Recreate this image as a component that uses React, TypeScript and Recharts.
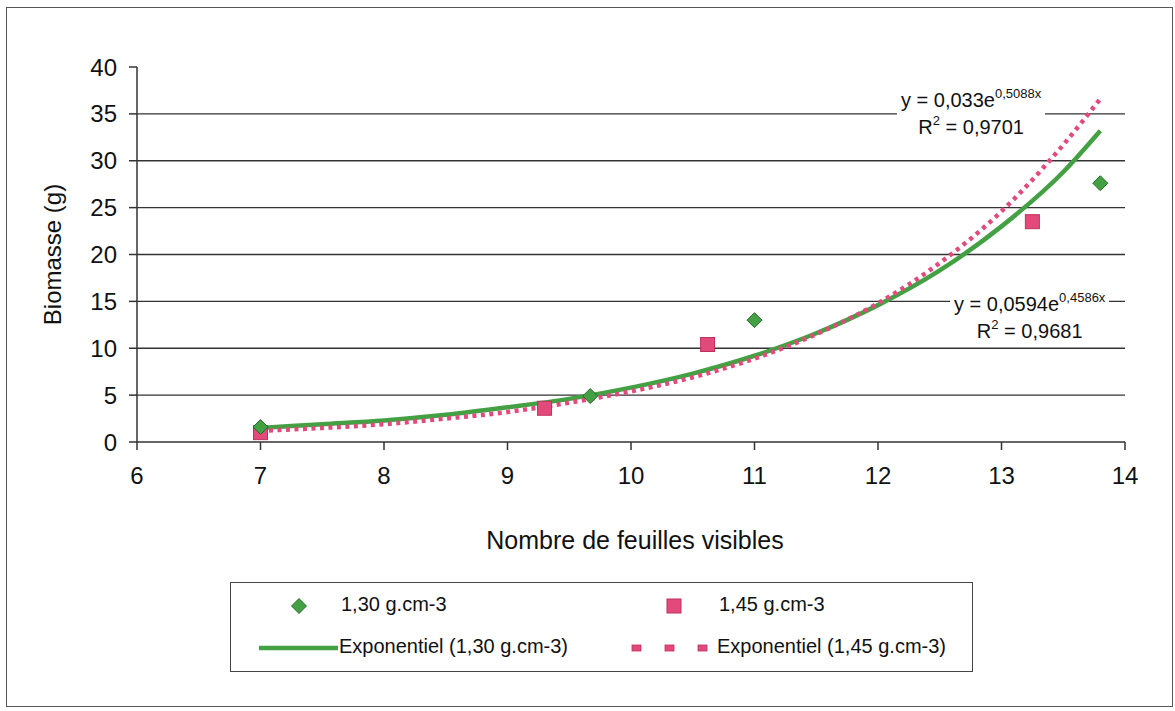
import { ComposedChart, Line, Scatter, XAxis, YAxis, ReferenceLine, Label } from 'recharts';

const FONT = '"Liberation Sans", Arial, sans-serif';

// measured points
const x130 = [7, 9.67, 11, 13.8];
const y130 = [1.6, 4.9, 13.0, 27.6];
const x145 = [7, 9.3, 10.62, 13.25];
const y145 = [1.0, 3.6, 10.4, 23.5];

// trend curves
const trendX = [7, 7.5, 8, 8.5, 9, 9.5, 10, 10.5, 11, 11.5, 12, 12.5, 13, 13.5, 13.8];
const trend130 = [1.5, 1.9, 2.3, 2.9, 3.7, 4.6, 5.8, 7.3, 9.2, 11.6, 14.6, 18.3, 23.0, 28.8, 33.2];
const trend145 = [1.2, 1.5, 1.9, 2.5, 3.2, 4.2, 5.4, 6.9, 8.9, 11.5, 14.8, 19.1, 24.6, 31.7, 36.6];

const xTicks = [6, 7, 8, 9, 10, 11, 12, 13, 14];
const yTicks = [0, 5, 10, 15, 20, 25, 30, 35, 40];
const gridValues = [5, 10, 15, 20, 25, 30, 35];

const GREEN = '#43a043';
const PINK = '#e24a7c';

const pts130 = x130.map((x, i) => ({ x, y: y130[i] }));
const pts145 = x145.map((x, i) => ({ x, y: y145[i] }));
const line130 = trendX.map((x, i) => ({ x, y: trend130[i] }));
const line145 = trendX.map((x, i) => ({ x, y: trend145[i] }));

function Diamond(props: any) {
  const { cx, cy } = props;
  const r = 7.5;
  return (
    <polygon
      points={`${cx},${cy - r} ${cx + r},${cy} ${cx},${cy + r} ${cx - r},${cy}`}
      fill={GREEN}
      stroke="#2a6a2a"
      strokeWidth={1}
    />
  );
}

function Square(props: any) {
  const { cx, cy } = props;
  const s = 14;
  return <rect x={cx - s / 2} y={cy - s / 2} width={s} height={s} fill={PINK} stroke="#c0305e" strokeWidth={1} />;
}

function YTitle(props: any) {
  const { viewBox } = props;
  const cx = viewBox.x - 25;
  const cy = viewBox.y + viewBox.height / 2;
  return (
    <text x={cx} y={cy} transform={`rotate(-90 ${cx} ${cy})`} textAnchor="middle" dominantBaseline="central"
      fontSize={24} fontFamily={FONT} fill="#111">
      Biomasse (g)
    </text>
  );
}

function XTitle(props: any) {
  const { viewBox } = props;
  const cx = viewBox.x + viewBox.width / 2 + 4;
  return (
    <text x={cx} y={viewBox.y + 98} textAnchor="middle" dominantBaseline="central"
      fontSize={25} fontFamily={FONT} fill="#111">
      Nombre de feuilles visibles
    </text>
  );
}

const supStyle = { fontSize: 13, verticalAlign: 'top', lineHeight: '13px' };

function Equation({ left, top, coef, exp, r2 }: { left: number; top: number; coef: string; exp: string; r2: string }) {
  return (
    <div style={{
      position: 'absolute', left, top, background: '#fff', textAlign: 'center',
      fontFamily: FONT, fontSize: 20, lineHeight: '27px', color: '#111', padding: '2px 4px',
    }}>
      <div>y = {coef}e<sup style={supStyle}>{exp}</sup></div>
      <div>R<sup style={supStyle}>2</sup> = {r2}</div>
    </div>
  );
}

const legendDots = [0, 1, 2];

function LegendBox() {
  const txt = { fontFamily: FONT, fontSize: 20, color: '#111', position: 'absolute' as const };
  return (
    <div style={{ position: 'absolute', left: 230, top: 582, width: 743, height: 90, border: '1.5px solid #444', boxSizing: 'border-box' }}>
      <svg width={743} height={90} style={{ position: 'absolute', left: 0, top: 0 }}>
        <Diamond cx={68} cy={23} />
        <Square cx={443} cy={23} />
        <line x1={28} x2={107} y1={65} y2={65} stroke={GREEN} strokeWidth={4.5} />
        {legendDots.map((i) => (
          <rect key={i} x={401 + i * 33} y={62} width={9} height={6} fill={PINK} stroke="#c0305e" strokeWidth={0.8} />
        ))}
      </svg>
      <span style={{ ...txt, left: 110, top: 10 }}>1,30 g.cm-3</span>
      <span style={{ ...txt, left: 488, top: 10 }}>1,45 g.cm-3</span>
      <span style={{ ...txt, left: 108, top: 52 }}>Exponentiel (1,30 g.cm-3)</span>
      <span style={{ ...txt, left: 486, top: 52 }}>Exponentiel (1,45 g.cm-3)</span>
    </div>
  );
}

export default function App() {
  return (
    <div style={{ position: 'absolute', left: 0, top: 0, width: 1175, height: 711, background: '#fff' }}>
      <div style={{ position: 'absolute', left: 6, top: 7, width: 1167, height: 700, border: '1.5px solid #555', boxSizing: 'border-box' }} />
      <ComposedChart width={1175} height={711} margin={{ top: 67, right: 50, bottom: 229, left: 77 }}>
        <XAxis
          type="number"
          dataKey="x"
          domain={[6, 14]}
          ticks={xTicks}
          height={40}
          tickSize={8}
          tickMargin={17}
          axisLine={{ stroke: '#333', strokeWidth: 1.5 }}
          tickLine={{ stroke: '#333', strokeWidth: 1.5 }}
          tick={{ fill: '#111', fontSize: 24, fontFamily: FONT }}
        >
          <Label content={XTitle} />
        </XAxis>
        <YAxis
          type="number"
          domain={[0, 40]}
          ticks={yTicks}
          width={60}
          tickSize={8}
          tickMargin={12}
          axisLine={{ stroke: '#333', strokeWidth: 1.5 }}
          tickLine={{ stroke: '#333', strokeWidth: 1.5 }}
          tick={{ fill: '#111', fontSize: 24, fontFamily: FONT }}
        >
          <Label content={YTitle} />
        </YAxis>
        {gridValues.map((v) => (
          <ReferenceLine key={v} y={v} stroke="#333" strokeWidth={1.3} />
        ))}
        <Line data={line130} dataKey="y" type="monotone" stroke={GREEN} strokeWidth={4.5} dot={false} isAnimationActive={false} />
        <Line data={line145} dataKey="y" type="monotone" stroke={PINK} strokeWidth={4.5} strokeDasharray="4 4.5" dot={false} isAnimationActive={false} />
        <Scatter data={pts145} dataKey="y" shape={<Square />} isAnimationActive={false} />
        <Scatter data={pts130} dataKey="y" shape={<Diamond />} isAnimationActive={false} />
      </ComposedChart>
      <Equation left={897} top={85} coef="0,033" exp="0,5088x" r2="0,9701" />
      <Equation left={950} top={289} coef="0,0594" exp="0,4586x" r2="0,9681" />
      <LegendBox />
    </div>
  );
}
